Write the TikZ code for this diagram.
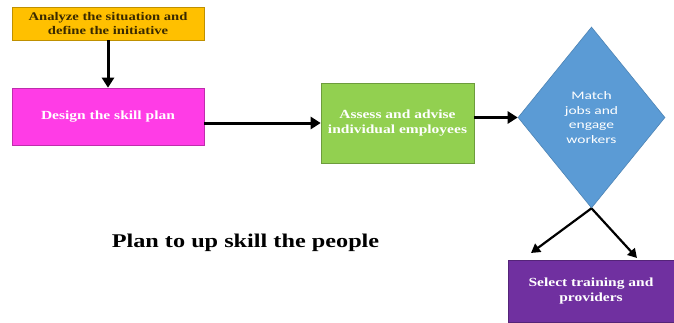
\documentclass[tikz,border=0pt]{standalone}
\usepackage{fontspec}
\setmainfont{Liberation Serif}
\newfontfamily\wideserif[FakeStretch=1.25]{Liberation Serif}
\newfontfamily\calib[FakeStretch=1.35]{Carlito}
\usetikzlibrary{shapes.geometric,arrows.meta}
\definecolor{cyellow}{HTML}{FFC000}
\definecolor{cmagenta}{HTML}{FF3CE6}
\definecolor{cgreen}{HTML}{92D050}
\definecolor{cblue}{HTML}{5B9BD5}
\definecolor{cpurple}{HTML}{7030A0}
\definecolor{ctext}{HTML}{3A2A00}
\tikzset{
  box/.style={rectangle, draw=#1!75!black, fill=#1, line width=0.6pt, inner sep=0pt,
    font=\wideserif\bfseries\fontsize{12.4}{14.5}\selectfont, align=center, text=white},
  bigarrow/.style={line width=3pt, -{Triangle[length=10pt,width=12pt]}},
  midarrow/.style={line width=2.2pt, -{Triangle[length=9pt,width=10pt]}},
}
\begin{document}
\begin{tikzpicture}[x=1pt,y=-1pt]
\useasboundingbox (0,0) rectangle (674,322);
\fill[white] (0,0) rectangle (674,322);

\node[box=cyellow, text=ctext, minimum width=192pt, minimum height=33pt,
  font=\wideserif\bfseries\fontsize{11.7}{14}\selectfont] (analyze) at (108,23.5)
  {Analyze the situation and\\define the initiative};
\node[box=cmagenta, minimum width=192pt, minimum height=57pt] (design) at (108,116.5)
  {Design the skill plan};
\node[box=cgreen, minimum width=153pt, minimum height=80pt] (assess) at (397.5,123)
  {Assess and advise\\individual employees};
\node[diamond, fill=cblue, draw=cblue!85!black, line width=0.6pt, inner sep=0pt,
  minimum width=147pt, minimum height=181pt, text=white, align=center,
  font=\calib\fontsize{11.5}{14.5}\selectfont] (match) at (591.5,117.5)
  {Match\\jobs and\\engage\\workers};
\node[box=cpurple, minimum width=166pt, minimum height=62pt] (select) at (591,291)
  {Select training and\\providers};
\node[font=\wideserif\bfseries\fontsize{19.4}{22}\selectfont] (caption) at (245.5,243)
  {Plan to up skill the people};

\coordinate (tipL) at (531,253);
\coordinate (tipR) at (637,258);

\draw[bigarrow] (analyze.south) -- (design.north);
\draw[bigarrow] (design.east |- assess.west) -- (assess.west);
\draw[bigarrow] (assess.east |- match.west) -- (match.west);
\draw[midarrow] (match.south) -- (tipL);
\draw[midarrow] (match.south) -- (tipR);
\end{tikzpicture}
\end{document}
